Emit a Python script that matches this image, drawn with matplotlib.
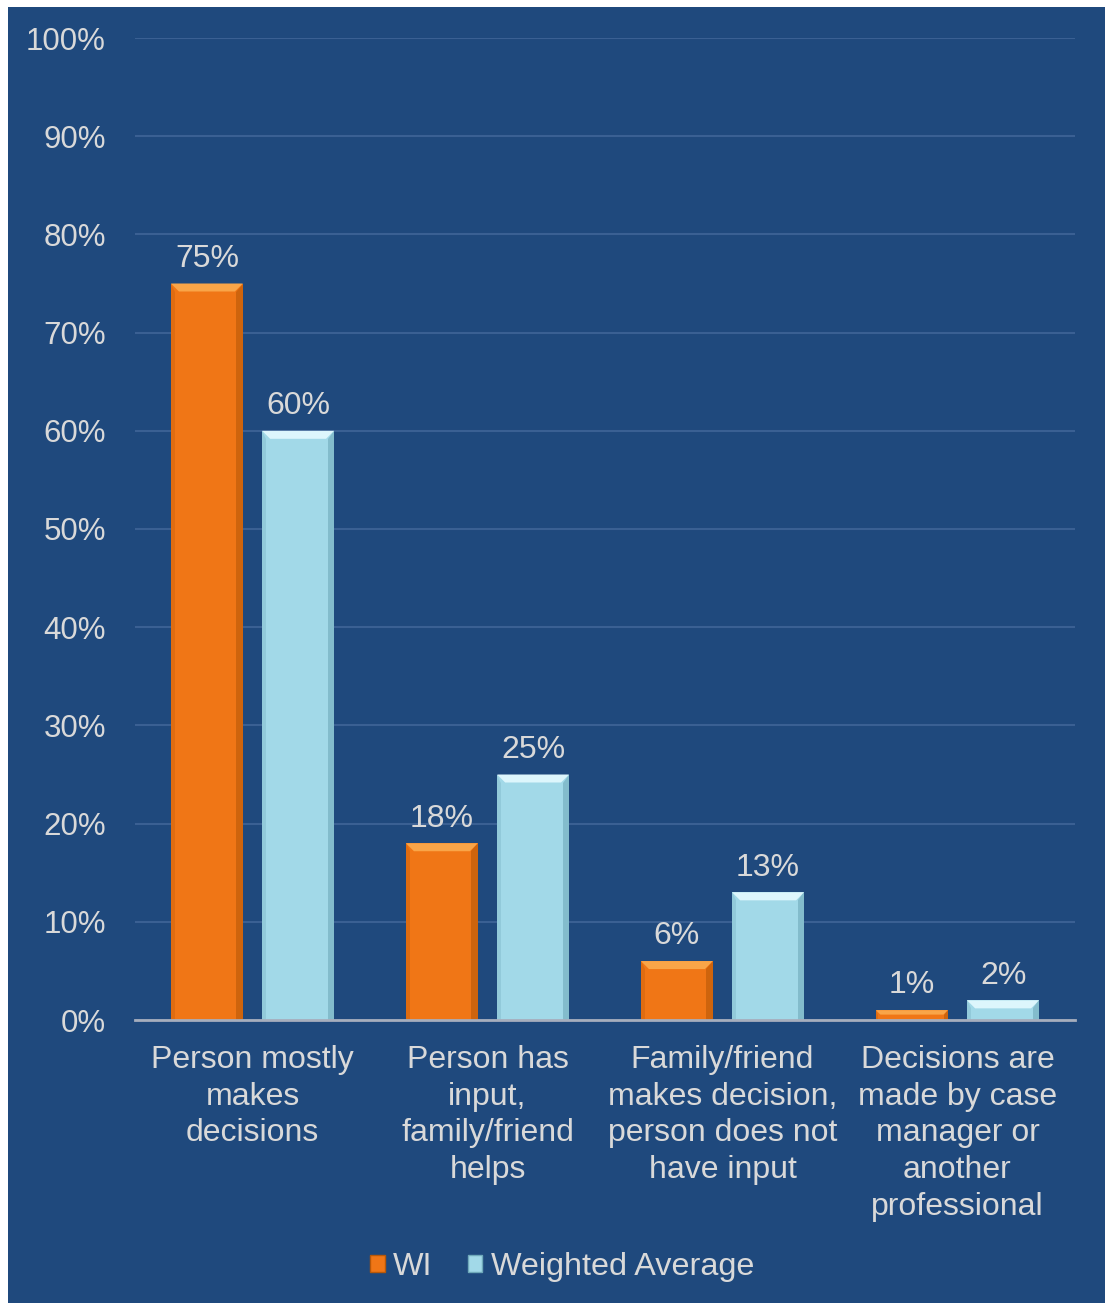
import matplotlib
matplotlib.use("Agg")
import matplotlib.pyplot as plt
from matplotlib.patches import Rectangle, Polygon, Patch
import numpy as np

plt.rcParams['font.family'] = ['Liberation Sans', 'DejaVu Sans']

categories = [
    "Person mostly\nmakes\ndecisions",
    "Person has\ninput,\nfamily/friend\nhelps",
    "Family/friend\nmakes decision,\nperson does not\nhave input",
    "Decisions are\nmade by case\nmanager or\nanother\nprofessional",
]
wi_values = [75, 18, 6, 1]
avg_values = [60, 25, 13, 2]
series_names = ["WI", "Weighted Average"]
y_ticks = [0, 10, 20, 30, 40, 50, 60, 70, 80, 90, 100]

BG = "#1F497D"
TEXT = "#D9D9D9"
GRID = "#3A6093"
ORANGE = "#F07616"
ORANGE_LIGHT = "#F9A548"
ORANGE_DARK = "#B85808"
BLUE = "#A2D9E8"
BLUE_LIGHT = "#DDF6FC"
BLUE_DARK = "#6FA9BA"

W, H = 1109, 1303
fig = plt.figure(figsize=(W / 100, H / 100), dpi=100, facecolor="white")
fig.patches.append(Rectangle((8 / W, 0), (1105 - 8) / W, (H - 7) / H,
                             transform=fig.transFigure, facecolor=BG,
                             edgecolor="none", zorder=-10))

ax = fig.add_axes([135 / W, (H - 1020) / H, (1075 - 135) / W, (1020 - 38) / H])
ax.set_facecolor("none")

x = np.arange(len(categories))
width = 0.306
offset = 0.194
bars_wi = ax.bar(x - offset, wi_values, width, color=ORANGE, zorder=3)
bars_avg = ax.bar(x + offset, avg_values, width, color=BLUE, zorder=3)

ax.set_xlim(-0.5, len(categories) - 0.5)
ax.set_ylim(0, 100)
ax.set_yticks(y_ticks)
ax.set_yticklabels([f"{v}%" for v in y_ticks], fontsize=22.5, color=TEXT)
ax.tick_params(axis="y", length=0, pad=21)
ax.set_xticks(x)
ax.set_xticklabels(categories, fontsize=23, color=TEXT, linespacing=1.29)
ax.tick_params(axis="x", length=0, pad=18)
ax.yaxis.grid(True, color=GRID, linewidth=1.5, zorder=0)
ax.set_axisbelow(True)
for s in ["top", "right", "left"]:
    ax.spines[s].set_visible(False)
ax.spines["bottom"].set_color("#A6AEBD")
ax.spines["bottom"].set_linewidth(2)
ax.spines["bottom"].set_zorder(5)

# Bevelled look: lighter top face, shaded sides
fig.canvas.draw()
bbox = ax.get_window_extent()
px_x = bbox.width / (ax.get_xlim()[1] - ax.get_xlim()[0])
px_y = bbox.height / (ax.get_ylim()[1] - ax.get_ylim()[0])


def bevel(bars, light, dark):
    for r in bars:
        x0, y0 = r.get_x(), r.get_y()
        x1, y1 = x0 + r.get_width(), y0 + r.get_height()
        hpx = r.get_height() * px_y
        b = min(8.0, hpx * 0.45)
        bx, by = b / px_x, b / px_y
        ax.add_patch(Polygon([(x0, y1), (x1, y1), (x1 - bx, y1 - by), (x0 + bx, y1 - by)],
                             closed=True, facecolor=light, edgecolor="none", zorder=4))
        ax.add_patch(Polygon([(x1, y1), (x1, y0), (x1 - bx * 0.8, y0), (x1 - bx * 0.8, y1 - by)],
                             closed=True, facecolor=dark, edgecolor="none", zorder=4, alpha=0.6))
        ax.add_patch(Polygon([(x0, y1), (x0, y0), (x0 + bx * 0.5, y0), (x0 + bx * 0.5, y1 - by)],
                             closed=True, facecolor=dark, edgecolor="none", zorder=4, alpha=0.3))


bevel(bars_wi, ORANGE_LIGHT, ORANGE_DARK)
bevel(bars_avg, BLUE_LIGHT, BLUE_DARK)

for bars, vals in [(bars_wi, wi_values), (bars_avg, avg_values)]:
    for r, v in zip(bars, vals):
        ax.annotate(f"{v}%", (r.get_x() + r.get_width() / 2, v),
                    xytext=(0, 7), textcoords="offset points",
                    ha="center", va="bottom", fontsize=23, color=TEXT)

handles = [Patch(facecolor=ORANGE, edgecolor=ORANGE_DARK, label=series_names[0]),
           Patch(facecolor=BLUE, edgecolor=BLUE_DARK, label=series_names[1])]
leg = fig.legend(handles=handles, loc="center", bbox_to_anchor=(562 / W, (H - 1267) / H),
                 ncol=2, frameon=False, fontsize=23.3, handlelength=0.45, handleheight=0.45,
                 handletextpad=0.25, columnspacing=1.1)
for t in leg.get_texts():
    t.set_color(TEXT)

fig.savefig("out.png", dpi=100, facecolor="white")
